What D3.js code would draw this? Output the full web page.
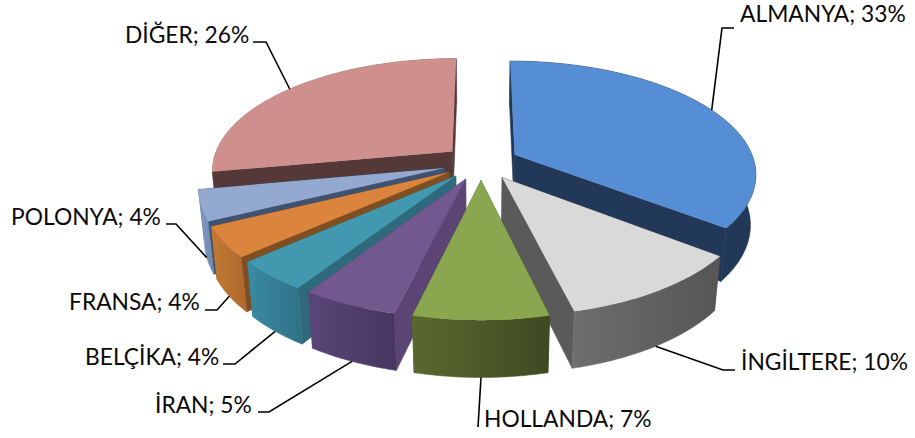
<!DOCTYPE html>
<html>
<head>
<meta charset="utf-8">
<script src="https://cdn.jsdelivr.net/npm/d3@7/dist/d3.min.js"></script>
<style>
  html, body { margin: 0; padding: 0; background: #fff; }
  text { font-family: Lato, sans-serif; font-size: 22.8px; fill: #0a0a0a; }
</style>
</head>
<body>
<svg id="chart" width="915" height="438"></svg>
<script>
const categories = ['ALMANYA', 'İNGİLTERE', 'HOLLANDA', 'İRAN', 'BELÇİKA', 'FRANSA', 'POLONYA', 'DİĞER'];
const shares = [33, 10, 7, 5, 4, 4, 4, 26];

// slice colours: top face, radial walls, outer wall gradient (left to right)
const topColors = ['#558ed5', '#d9d9d9', '#8aa64e', '#71588f', '#4198af', '#db843d', '#93a9cf', '#cf8f8d'];
const wallColors = ['#223858', '#5a5a5a', '#4f6228', '#5b4574', '#2e6a7c', '#7f4f22', '#3f5270', '#553838'];
const rimColors = [
  ['#223858', '#223858'], ['#6e6e6e', '#565656'], ['#58692f', '#3e4a22'], ['#5a4578', '#463660'],
  ['#3a8ba3', '#2f7186'], ['#c27a36', '#ae682c'], ['#839bc4', '#6f88ae'], ['#a87776', '#8f6362']
];

// back slices first so the front ones cover them
const drawOrder = [7, 0, 6, 5, 4, 3, 1, 2];

// label text anchor, leader elbow points
const labelLayout = [
  { x: 740, y: 22, line: [[734, 28], [722, 28]] },
  { x: 741, y: 370, line: [[735, 370], [723, 370]] },
  { x: 484, y: 427, line: [[478, 427]] },
  { x: 155, y: 413, line: [[258, 412], [269, 412]] },
  { x: 85, y: 365, line: [[223, 364], [235, 364]] },
  { x: 69, y: 310, line: [[205, 310], [217, 310]] },
  { x: 11, y: 225, line: [[166, 224], [176, 224]] },
  { x: 125, y: 43, line: [[253, 42], [266, 42]] }
];

const explode = 0.158;  // slice pull-out, in radius units
const persp = 0.16;     // perspective strength along the depth axis
const perspZ = 0.02;    // the bottom face is a bit farther away

const svg = d3.select('#chart');
const defs = svg.append('defs');

const xScale = d3.scaleLinear().domain([-1, 1]).range([241, 721]);
const yScale = d3.scaleLinear().domain([-1, 1]).range([273.4, 51.4]);
const zScale = d3.scaleLinear().domain([0, 1]).range([0, 51]);

// polar position on the disc (0 = 12 o'clock, clockwise) to screen
function project(angle, radius, mid, z) {
  const wx = radius * Math.sin(angle) + explode * Math.sin(mid);
  const wd = radius * Math.cos(angle) + explode * Math.cos(mid);
  const s = 1 / (1 + persp * wd + perspZ * z);
  return [xScale(wx * s), yScale(wd * s) + zScale(z) * s];
}

const pie = d3.pie().sort(null).value(d => d)(shares);
const path = d3.line();

function arcPoints(d, mid, z, reverse) {
  let pts = d3.range(0, 41).map(i => {
    const a = d.startAngle + (d.endAngle - d.startAngle) * i / 40;
    return project(a, 1, mid, z);
  });
  return reverse ? pts.reverse() : pts;
}

drawOrder.forEach(i => {
  const d = pie[i];
  const mid = (d.startAngle + d.endAngle) / 2;
  const g = svg.append('g').attr('class', 'slice');

  const grad = defs.append('linearGradient').attr('id', `rim-${i}`);
  grad.append('stop').attr('offset', '0%').attr('stop-color', rimColors[i][0]);
  grad.append('stop').attr('offset', '100%').attr('stop-color', rimColors[i][1]);

  const drawRim = () => g.append('path')
    .attr('d', path(arcPoints(d, mid, 0, false).concat(arcPoints(d, mid, 1, true))) + 'Z')
    .attr('fill', `url(#rim-${i})`)
    .attr('stroke', `url(#rim-${i})`)
    .attr('stroke-width', 0.5);

  const drawWalls = () => [d.startAngle, d.endAngle].forEach(a => {
    g.append('path')
      .attr('d', path([
        project(0, 0, mid, 0), project(a, 1, mid, 0),
        project(a, 1, mid, 1), project(0, 0, mid, 1)
      ]) + 'Z')
      .attr('fill', wallColors[i])
      .attr('stroke', wallColors[i])
      .attr('stroke-width', 0.5);
  });

  // slices on the back half show their radial walls in front of the rim
  if (Math.cos(mid) > 0) {
    drawRim();
    drawWalls();
  } else {
    drawWalls();
    drawRim();
  }

  // top face
  g.append('path')
    .attr('d', path([project(0, 0, mid, 0)].concat(arcPoints(d, mid, 0, false))) + 'Z')
    .attr('fill', topColors[i]);
});

// leader lines end on the rim at the slice's middle angle
pie.forEach((d, i) => {
  const mid = (d.startAngle + d.endAngle) / 2;
  const front = Math.cos(mid) < 0 ? 1 : 0;
  svg.append('path')
    .attr('d', path(labelLayout[i].line.concat([project(mid, 1, mid, front)])))
    .attr('fill', 'none')
    .attr('stroke', '#000')
    .attr('stroke-width', 1.6);

  svg.append('text')
    .attr('x', labelLayout[i].x)
    .attr('y', labelLayout[i].y)
    .text(`${categories[i]}; ${shares[i]}%`);
});
</script>
</body>
</html>
